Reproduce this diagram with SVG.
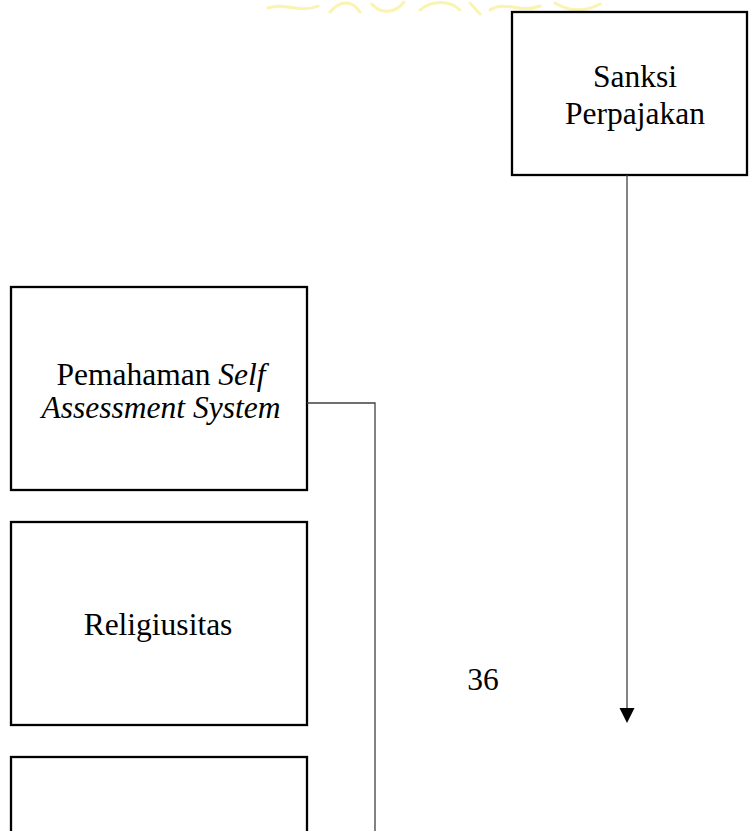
<svg xmlns="http://www.w3.org/2000/svg" width="749" height="831" viewBox="0 0 749 831">
<style>
.box{fill:#fff;stroke:#000;stroke-width:2.3}
.t{font-family:"Liberation Serif","Times New Roman",serif;font-size:31.5px;fill:#000;text-anchor:middle}
.i{font-style:italic}
.c{fill:none;stroke:#404040;stroke-width:1.3}
.wm{fill:none;stroke:#fbf3b0;stroke-width:3;stroke-linecap:round}
</style>
<defs>
<marker id="ah" markerWidth="15" markerHeight="15" refX="7.5" refY="15" orient="auto" markerUnits="userSpaceOnUse" viewBox="0 0 15 15">
<path d="M0,0 L15,0 L7.5,15 Z" fill="#000" transform="rotate(-90 7.5 7.5)"/>
</marker>
</defs>
<rect width="749" height="831" fill="#fff"/>
<g id="watermark">
<path class="wm" d="M268,8 C285,2 300,14 318,6 M330,12 C340,0 352,0 360,12 M372,4 C380,14 395,14 404,2 M420,10 C432,0 450,0 460,10 M470,3 L480,14 M490,10 C505,0 520,14 540,6 M555,3 C570,12 585,12 600,4"/>
</g>
<g id="node-sanksi">
<rect class="box" x="512" y="12" width="235" height="163"/>
<text class="t" x="635" y="87">Sanksi</text>
<text class="t" x="635" y="124">Perpajakan</text>
</g>
<g id="node-pemahaman">
<rect class="box" x="11" y="287" width="296" height="203"/>
<text class="t" x="161" y="385">Pemahaman <tspan class="i">Self</tspan></text>
<text class="t i" x="161" y="418">Assessment System</text>
</g>
<g id="node-religiusitas">
<rect class="box" x="11" y="522" width="296" height="203"/>
<text class="t" x="158" y="635">Religiusitas</text>
</g>
<g id="node-third">
<rect class="box" x="11" y="757" width="296" height="100"/>
</g>
<g id="page-number">
<text class="t" x="483" y="690">36</text>
</g>
<g id="connectors">
<path class="c" d="M307,403 H375 V831"/>
<line x1="627" y1="175" x2="627" y2="708" stroke="#404040" stroke-width="1.3"/>
<path d="M619.5,708 L634.5,708 L627,723 Z" fill="#000"/>
</g>
</svg>
